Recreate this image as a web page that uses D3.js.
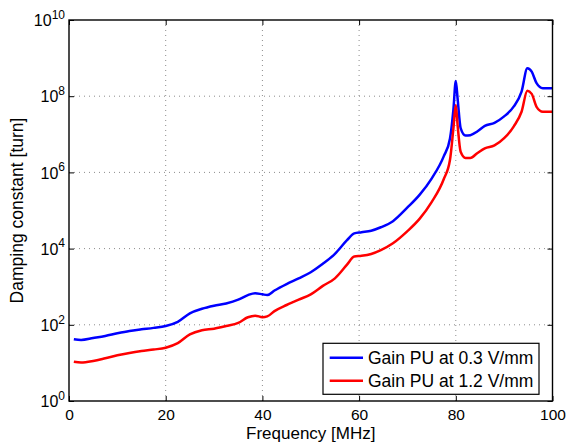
<!DOCTYPE html>
<meta charset="utf-8">
<script src="https://d3js.org/d3.v7.min.js"></script>
<style>
  body { margin: 0; background: #fff; }
  text { font-family: "Liberation Sans", Arial, Helvetica, sans-serif; fill: #000; }
</style>
<div id="chart"></div>
<script>
// frequency points [MHz]
var freq = [1, 2.5, 5, 7.5, 10, 12.5, 15, 17.5, 20, 22.5, 25, 27.5, 30, 32.5, 35, 37, 38.5, 40, 41, 42.5,
            45, 47.5, 50, 52.5, 55, 57.5, 59, 60.5, 62.5, 64.5, 67, 70, 72.5, 75, 77.5, 78.8, 79.5, 80, 80.4, 81,
            82, 83, 84.5, 86, 88, 90, 92, 93.6, 94.8, 95.7, 96.7, 98, 100];

// damping constant [turn], gain PU at 0.3 V/mm
var gain03 = [42, 40, 45, 51, 60, 69, 76, 83, 93, 120, 200, 263, 316, 363, 457, 603, 676, 631, 603, 794,
              1175, 1660, 2400, 3980, 7240, 16600, 25100, 26900, 29500, 36300, 52500, 1.2e5, 2.57e5, 6.9e5, 2.63e6, 7.8e6, 4.4e7, 2.5e8, 7.9e7, 1.45e7,
              9.3e6, 9.5e6, 1.2e7, 1.66e7, 2.0e7, 2.95e7, 5.4e7, 1.32e8, 5.4e8, 4.4e8, 2.2e8, 1.62e8, 1.62e8];

// damping constant [turn], gain PU at 1.2 V/mm
var gain12 = [10.7, 10.2, 11.2, 13.2, 15.8, 18.2, 20.4, 22.4, 25.1, 33, 56, 72, 79, 93, 112, 158, 174, 158, 166, 229,
              331, 457, 631, 1050, 1660, 3800, 6170, 6460, 7240, 9120, 13800, 28800, 60300, 1.66e5, 6.6e5, 2.14e6, 1.41e7, 5.9e7, 1.58e7, 3.47e6,
              2.4e6, 2.4e6, 3.24e6, 4.27e6, 5.1e6, 7.9e6, 1.62e7, 3.9e7, 1.38e8, 1.15e8, 5.25e7, 3.9e7, 3.9e7];

var xTicks = [0, 20, 40, 60, 80, 100];
var yExps = [0, 2, 4, 6, 8, 10];
var seriesNames = ["Gain PU at 0.3 V/mm", "Gain PU at 1.2 V/mm"];
var seriesColors = ["#0000ff", "#ff0000"];

var margin = {top: 20, right: 14.5, bottom: 42, left: 69},
    width = 567 - margin.left - margin.right,
    height = 443 - margin.top - margin.bottom;

var svg = d3.select("#chart")
  .append("svg")
    .attr("width", 567)
    .attr("height", 443)
  .append("g")
    .attr("transform", "translate(" + margin.left + "," + margin.top + ")");

var x = d3.scaleLinear().domain([0, 100]).range([0, width]);
var y = d3.scaleLog().domain([1, 1e10]).range([height, 0]);
var yTicks = yExps.map(function(e) { return Math.pow(10, e); });

// dotted grid
svg.append("g")
  .selectAll("line")
  .data(xTicks.slice(1, -1))
  .enter().append("line")
    .attr("x1", function(d) { return x(d); })
    .attr("x2", function(d) { return x(d); })
    .attr("y1", 0).attr("y2", height)
    .attr("stroke", "#8c8c8c").attr("stroke-width", 1)
    .attr("stroke-dasharray", "1,4");
svg.append("g")
  .selectAll("line")
  .data(yTicks.slice(1, -1))
  .enter().append("line")
    .attr("y1", function(d) { return y(d); })
    .attr("y2", function(d) { return y(d); })
    .attr("x1", 0).attr("x2", width)
    .attr("stroke", "#8c8c8c").attr("stroke-width", 1)
    .attr("stroke-dasharray", "1,4");

// curves
var line = d3.line()
  .x(function(d) { return x(d[0]); })
  .y(function(d) { return y(d[1]); })
  .curve(d3.curveMonotoneX);

[gain03, gain12].forEach(function(vals, i) {
  svg.append("path")
    .datum(freq.map(function(f, k) { return [f, vals[k]]; }))
    .attr("fill", "none")
    .attr("stroke", seriesColors[i])
    .attr("stroke-width", 2.5)
    .attr("stroke-linejoin", "round")
    .attr("d", line);
});

// axes, ticks pointing inward
var xAxis = svg.append("g")
  .attr("transform", "translate(0," + height + ")")
  .call(d3.axisBottom(x).tickValues(xTicks).tickSize(-5).tickPadding(8));
xAxis.selectAll("text").style("font-size", "15.5px");

svg.append("g")
  .call(d3.axisTop(x).tickValues(xTicks).tickSize(-5).tickFormat(""));

var yAxis = svg.append("g")
  .call(d3.axisLeft(y).tickValues(yTicks).tickSize(-5).tickFormat(""));
var lab = yAxis.selectAll(".tick").append("text")
  .attr("x", -4)
  .attr("dy", "0.36em")
  .style("text-anchor", "end")
  .style("font-size", "16px")
  .text("10");
lab.append("tspan")
  .attr("dy", "-0.62em")
  .style("font-size", "12px")
  .text(function(d) { return Math.round(Math.log10(d)); });

svg.append("g")
  .attr("transform", "translate(" + width + ",0)")
  .call(d3.axisRight(y).tickValues(yTicks).tickSize(-5).tickFormat(""));

svg.selectAll(".domain").remove();
svg.selectAll(".tick line").attr("stroke", "#000").attr("stroke-width", 1);

svg.append("rect")
  .attr("width", width).attr("height", height)
  .attr("fill", "none").attr("stroke", "#000").attr("stroke-width", 1.4);

// axis labels
svg.append("text")
  .attr("x", width / 2)
  .attr("y", height + 38)
  .style("text-anchor", "middle")
  .style("font-size", "17px")
  .text("Frequency [MHz]");

svg.append("text")
  .attr("transform", "rotate(-90)")
  .attr("x", -height / 2)
  .attr("y", -46.5)
  .style("text-anchor", "middle")
  .style("font-size", "17.5px")
  .text("Damping constant [turn]");

// legend
var legend = svg.append("g")
  .attr("transform", "translate(" + (width - 229.5) + "," + (height - 57.7) + ")");
legend.append("rect")
  .attr("width", 216).attr("height", 51)
  .attr("fill", "#fff").attr("stroke", "#000").attr("stroke-width", 1.2);
seriesNames.forEach(function(name, i) {
  var ly = 14.4 + i * 23;
  legend.append("line")
    .attr("x1", 6.7).attr("x2", 40)
    .attr("y1", ly).attr("y2", ly)
    .attr("stroke", seriesColors[i]).attr("stroke-width", 2.5);
  legend.append("text")
    .attr("x", 45)
    .attr("y", ly + 6.2)
    .style("font-size", "17.5px")
    .text(name);
});
</script>
